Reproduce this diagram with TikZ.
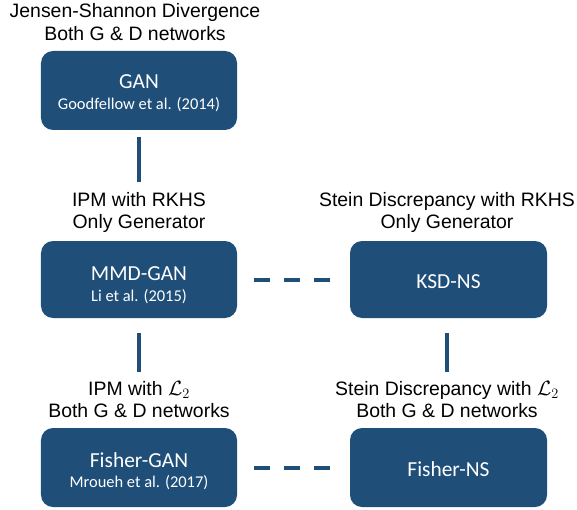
\documentclass[tikz,border=0pt]{standalone}
\usepackage{fontspec}
\setmainfont{Liberation Sans}
\newfontfamily\boxfont{Carlito}
\definecolor{boxblue}{RGB}{31,78,121}
\begin{document}
\begin{tikzpicture}[x=1bp,y=-1bp,
  gbox/.style={draw=none,fill=boxblue,rounded corners=12bp,
    minimum width=196bp,inner sep=0pt},
  maintxt/.style={anchor=base,inner sep=0pt,text=white,font=\boxfont\fontsize{21.5}{24}\selectfont},
  subtxt/.style={anchor=base,inner sep=0pt,text=white,font=\boxfont\fontsize{16.5}{20}\selectfont},
  lbl/.style={align=center,inner sep=0pt,font=\fontsize{19.5}{22.5}\selectfont},
  link/.style={draw=boxblue,line width=4bp},
  dlink/.style={draw=boxblue,line width=4bp,dash pattern=on 16bp off 14bp}]
\useasboundingbox (0,0) rectangle (577,510);
% labels
\node[lbl] (l1) at (135,22) {Jensen-Shannon Divergence\\Both G \& D networks};
\node[lbl] (l2) at (139,212.5) {IPM with RKHS\\Only Generator};
\node[lbl] (l3) at (447,212.5) {Stein Discrepancy with RKHS\\Only Generator};
\node[lbl] (l4) at (139,399.5) {IPM with $\mathcal{L}_2$\\Both G \& D networks};
\node[lbl] (l5) at (447,399.5) {Stein Discrepancy with $\mathcal{L}_2$\\Both G \& D networks};
% boxes
\node[gbox,minimum height=79bp] (gan) at (139,90.5) {};
\node[gbox,minimum height=77bp] (mmd) at (139,279.5) {};
\node[gbox,minimum height=77bp,minimum width=197bp] (ksd) at (448.5,279.5) {};
\node[gbox,minimum height=79bp] (fgan) at (139,467.5) {};
\node[gbox,minimum height=79bp,minimum width=197bp] (fns) at (448.5,467.5) {};
% box texts
\node[maintxt] (gant) at (139,89) {GAN};
\node[subtxt] (gans) at (139,110) {Goodfellow et al. (2014)};
\node[maintxt] (mmdt) at (139,280) {MMD-GAN};
\node[subtxt] (mmds) at (139,301) {Li et al. (2015)};
\node[maintxt] (ksdt) at (448.5,288) {KSD-NS};
\node[maintxt] (fgant) at (139,467) {Fisher-GAN};
\node[subtxt] (fgans) at (139,487) {Mroueh et al. (2017)};
\node[maintxt] (fnst) at (448.5,476) {Fisher-NS};
% connectors
\draw[link,shorten <=7bp] (gan.south) -- (gan.south |- 0,182);
\coordinate (a1) at (139,333);
\coordinate (a2) at (139,372);
\coordinate (b1) at (447,333);
\coordinate (b2) at (447,372);
\draw[link] (a1) -- (a2);
\draw[link] (b1) -- (b2);
\draw[dlink,shorten <=17bp,shorten >=20bp] (mmd.east) -- (ksd.west);
\draw[dlink,shorten <=17bp,shorten >=20bp] (fgan.east) -- (fns.west);
\end{tikzpicture}
\end{document}
